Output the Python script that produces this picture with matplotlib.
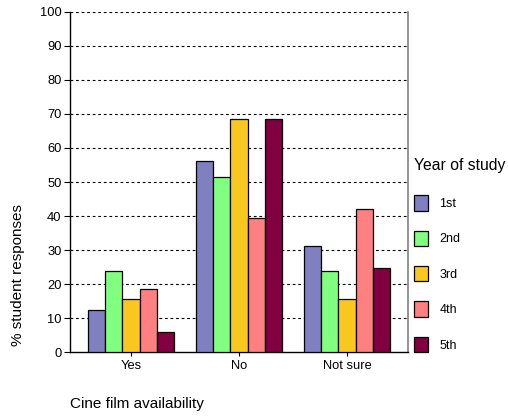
import matplotlib
matplotlib.use("Agg")
import matplotlib.pyplot as plt
import numpy as np

plt.rcParams['font.family'] = ['Liberation Sans', 'DejaVu Sans']

categories = ["Yes", "No", "Not sure"]
years = ["1st", "2nd", "3rd", "4th", "5th"]
values = {
    "1st": [12.4, 56.1, 31.1],
    "2nd": [23.9, 51.6, 23.9],
    "3rd": [15.7, 68.4, 15.7],
    "4th": [18.4, 39.4, 42.1],
    "5th": [6.0, 68.6, 24.8],
}
colors = ["#8080C0", "#80FF80", "#F8C820", "#FF8080", "#800040"]
yticks = [0, 10, 20, 30, 40, 50, 60, 70, 80, 90, 100]

fig = plt.figure(figsize=(5.08, 4.19), dpi=100)
ax = fig.add_axes([70/508, 1-352/419, 338/508, 340/419])

x = np.arange(len(categories))
w = 0.16
handles = []
for i, yr in enumerate(years):
    b = ax.bar(x + (i - 2) * w, values[yr], width=w, color=colors[i],
               edgecolor="black", linewidth=0.9, label=yr, zorder=3)
    handles.append(b)

ax.set_xlim(-0.565, 2.565)
ax.set_ylim(0, 100)
ax.set_yticks(yticks)
ax.set_xticks(x)
ax.set_xticklabels(categories, fontsize=9.3)
ax.tick_params(axis='y', labelsize=9.3, length=4, width=0.8, pad=2)
ax.tick_params(axis='x', length=3, width=0.8, pad=3)
for yv in yticks[1:]:
    ax.axhline(yv, color="black", linestyle=(0, (2.5, 2.5)), linewidth=0.8, zorder=1)
ax.spines['top'].set_visible(False)
ax.spines['right'].set_color("#808080")
ax.spines['right'].set_linewidth(1.2)
ax.spines['left'].set_linewidth(1.0)
ax.spines['bottom'].set_linewidth(1.0)

fig.text(18/508, 1-275/419, "% student responses", rotation=90,
         ha="center", va="center", fontsize=11)
fig.text(70/508, 1-404/419, "Cine film availability", ha="left",
         va="center", fontsize=11)

leg = fig.legend(handles=handles, labels=years, loc="upper left",
                 bbox_to_anchor=(414/508, 1-158/419), frameon=False,
                 borderaxespad=0,
                 title="Year of study", title_fontsize=11.3, fontsize=9,
                 handlelength=1.12, handleheight=1.53, labelspacing=1.59,
                 handletextpad=0.9, borderpad=0, alignment="left")
leg._legend_box.sep = 16

fig.savefig("out.png", dpi=100)
